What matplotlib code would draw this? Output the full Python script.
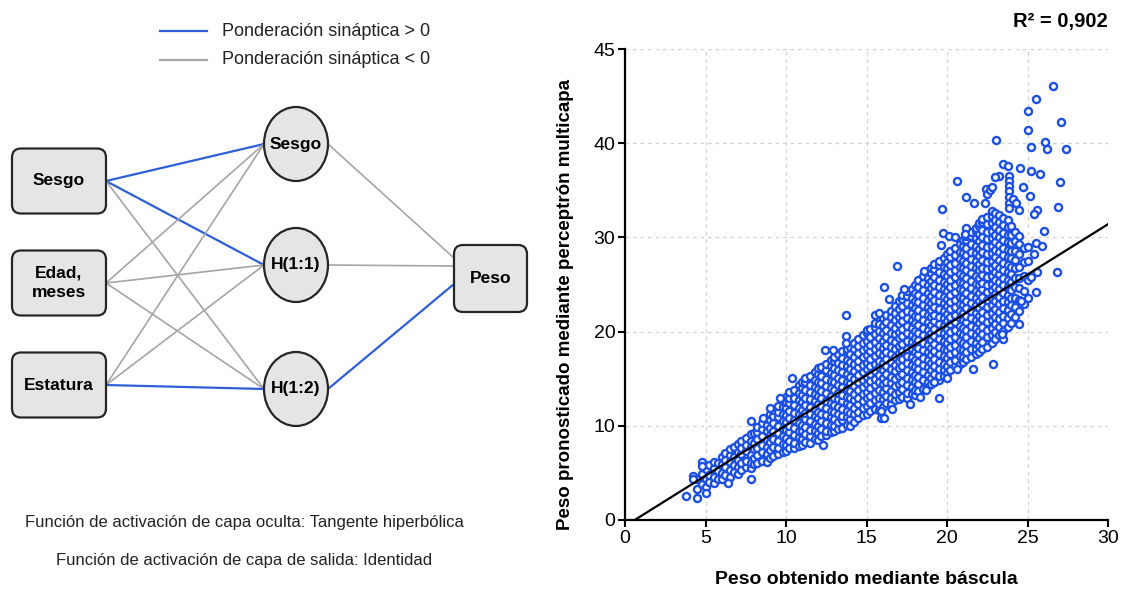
import numpy as np
import matplotlib
matplotlib.use("Agg")
import matplotlib.pyplot as plt
from matplotlib.patches import FancyBboxPatch, Ellipse

plt.rcParams['font.family'] = ['Liberation Sans', 'DejaVu Sans']

BLUE = '#2d5fd9'
GRAY = '#a5a5a5'
PT_BLUE = '#1c4fe3'

# ---- network diagram ----
input_labels = ["Sesgo", "Edad,\nmeses", "Estatura"]
hidden_labels = ["Sesgo", "H(1:1)", "H(1:2)"]
output_label = "Peso"
# sign of the synaptic weight (input -> hidden), +1 blue / -1 gray
w_in = [[1, 1, -1],
        [-1, -1, -1],
        [-1, -1, 1]]
w_out = [-1, -1, 1]
legend_labels = ["Ponderación sináptica > 0", "Ponderación sináptica < 0"]
notes = ["Función de activación de capa oculta: Tangente hiperbólica",
         "Función de activación de capa de salida: Identidad"]

# ---- scatter: columns of points ----
col_x = [4.5, 4.8, 5.0, 5.2, 5.5, 5.8, 6.0, 6.2, 6.5, 6.8, 7.0, 7.2, 7.5, 7.8,
         8.0, 8.2, 8.5, 8.8, 9.0, 9.2, 9.5, 9.8, 10.0, 10.2, 10.5, 10.8, 11.0,
         11.2, 11.5, 11.8, 12.0, 12.2, 12.5, 12.8, 13.0, 13.2, 13.5, 13.8, 14.0,
         14.2, 14.5, 14.8, 15.0, 15.2, 15.5, 15.8, 16.0, 16.2, 16.5, 16.8, 17.0,
         17.2, 17.5, 17.8, 18.0, 18.2, 18.5, 18.8, 19.0, 19.2, 19.5, 19.8, 20.0,
         20.2, 20.5, 20.8, 21.0, 21.2, 21.5, 21.8, 22.0, 22.2, 22.5, 22.8, 23.0,
         23.2, 23.5, 23.8, 24.0, 24.2, 24.5, 24.8, 25.0]
col_y = [
    [3.3, 4.4],
    [3.8, 4.9],
    [3.5, 4.3, 5.4],
    [4.0, 4.8, 5.8],
    [3.9, 4.6, 5.5, 6.2],
    [4.3, 5.2, 6.0],
    [4.4, 5.0, 5.9, 6.7],
    [4.8, 5.6, 6.4, 7.1],
    [4.6, 5.3, 6.2, 6.9, 7.5],
    [5.1, 5.8, 6.7, 7.7],
    [4.9, 5.6, 6.4, 7.2, 8.1],
    [5.3, 6.1, 7.0, 7.6, 8.4],
    [5.6, 6.3, 7.3, 8.0, 8.7],
    [5.5, 6.0, 6.9, 7.8, 8.4, 9.1],
    [5.9, 6.6, 7.5, 8.2, 9.2],
    [6.0, 6.9, 7.6, 8.6, 9.3, 9.9],
    [6.3, 7.2, 8.0, 8.9, 9.7, 10.3],
    [6.2, 7.0, 7.7, 8.5, 9.4, 10.1, 10.8],
    [6.6, 7.4, 8.3, 9.0, 9.8, 10.6, 11.3],
    [6.8, 7.8, 8.6, 9.5, 10.3, 11.0, 11.7],
    [7.0, 7.6, 8.4, 9.2, 10.0, 10.9, 11.5, 12.1],
    [7.2, 8.1, 8.9, 9.7, 10.5, 11.3, 12.0, 12.6],
    [7.3, 8.0, 8.7, 9.6, 10.4, 11.1, 11.9, 12.5, 13.1],
    [7.6, 8.4, 9.3, 10.0, 10.8, 11.6, 12.4, 13.0, 13.6],
    [7.6, 8.2, 9.0, 9.8, 10.6, 11.4, 12.2, 12.9, 13.8],
    [7.9, 8.8, 9.5, 10.3, 11.2, 11.9, 12.7, 13.5, 14.3],
    [8.0, 8.6, 9.4, 10.1, 11.0, 11.7, 12.5, 13.3, 14.0, 14.7],
    [8.3, 9.1, 9.9, 10.7, 11.4, 12.2, 13.0, 13.8, 14.6, 15.1],
    [8.2, 8.9, 9.6, 10.5, 11.2, 12.0, 12.8, 13.6, 14.3, 15.3],
    [8.6, 9.4, 10.2, 11.0, 11.8, 12.6, 13.4, 14.1, 14.9, 15.7],
    [8.5, 9.2, 10.0, 10.8, 11.5, 12.3, 13.2, 13.9, 14.7, 15.5, 16.1],
    [8.9, 9.7, 10.5, 11.3, 12.1, 12.9, 13.7, 14.5, 15.3, 16.2],
    [9.0, 9.5, 10.3, 11.1, 11.9, 12.6, 13.5, 14.2, 15.0, 15.9, 16.6],
    [9.3, 10.1, 10.9, 11.6, 12.4, 13.2, 14.0, 14.8, 15.6, 16.4, 17.0],
    [9.4, 10.0, 10.7, 11.5, 12.2, 13.0, 13.8, 14.6, 15.4, 16.1, 16.9, 17.3],
    [9.7, 10.4, 11.2, 12.0, 12.8, 13.5, 14.3, 15.1, 15.9, 16.7, 17.6],
    [9.8, 10.6, 11.0, 11.8, 12.6, 13.3, 14.1, 14.9, 15.7, 16.5, 17.2, 17.9],
    [10.1, 10.9, 11.6, 12.4, 13.1, 13.9, 14.7, 15.5, 16.3, 17.0, 17.8, 18.2],
    [10.0, 10.7, 11.4, 12.2, 12.9, 13.7, 14.5, 15.2, 16.0, 16.8, 17.6, 18.4],
    [10.4, 11.2, 11.9, 12.7, 13.4, 14.2, 15.0, 15.8, 16.6, 17.3, 18.1, 18.8],
    [10.8, 11.5, 12.3, 13.0, 13.8, 14.6, 15.4, 16.2, 16.9, 17.7, 18.5, 19.2],
    [11.1, 11.9, 12.6, 13.4, 14.1, 14.9, 15.7, 16.5, 17.3, 18.0, 18.8, 19.6],
    [11.3, 12.1, 12.9, 13.6, 14.4, 15.2, 16.0, 16.7, 17.5, 18.3, 19.0, 19.8, 20.2],
    [11.6, 12.4, 13.2, 14.0, 14.8, 15.5, 16.3, 17.1, 17.9, 18.6, 19.4, 20.3],
    [11.8, 12.7, 13.5, 14.3, 15.0, 15.8, 16.6, 17.4, 18.2, 18.9, 19.7, 20.5, 20.9],
    [11.7, 12.3, 13.0, 13.8, 14.6, 15.4, 16.2, 16.9, 17.7, 18.5, 19.3, 20.1, 20.8],
    [12.0, 12.8, 13.6, 14.4, 15.1, 15.9, 16.7, 17.5, 18.3, 19.0, 19.8, 20.6, 21.4],
    [12.4, 13.2, 14.0, 14.7, 15.5, 16.3, 17.1, 17.8, 18.6, 19.4, 20.2, 21.0, 21.8],
    [12.3, 12.9, 13.7, 14.5, 15.2, 16.0, 16.8, 17.6, 18.4, 19.1, 19.9, 20.7, 21.5, 22.2],
    [12.7, 13.4, 14.2, 15.0, 15.8, 16.5, 17.3, 18.1, 18.9, 19.7, 20.4, 21.2, 22.0, 22.7],
    [12.8, 13.6, 14.4, 15.3, 16.1, 16.9, 17.7, 18.5, 19.3, 20.0, 20.8, 21.6, 22.4, 23.2],
    [13.1, 13.9, 14.7, 15.5, 16.3, 17.1, 17.9, 18.7, 19.5, 20.3, 21.1, 21.9, 22.7, 23.5, 23.9],
    [13.0, 13.5, 14.3, 15.1, 15.9, 16.7, 17.4, 18.2, 19.0, 19.8, 20.6, 21.4, 22.2, 23.0, 23.8, 24.3],
    [13.4, 14.1, 14.9, 15.7, 16.5, 17.3, 18.1, 18.9, 19.6, 20.4, 21.2, 22.0, 22.8, 23.6, 24.5],
    [13.3, 13.8, 14.6, 15.4, 16.2, 17.0, 17.8, 18.6, 19.3, 20.1, 20.9, 21.7, 22.5, 23.3, 24.1, 24.9],
    [13.7, 14.4, 15.2, 16.0, 16.8, 17.6, 18.3, 19.1, 19.9, 20.7, 21.5, 22.3, 23.1, 23.9, 24.7, 25.5],
    [13.9, 14.9, 15.7, 16.5, 17.2, 18.0, 18.8, 19.6, 20.4, 21.2, 22.0, 22.8, 23.6, 24.4, 25.2, 25.9],
    [14.2, 14.7, 15.4, 16.2, 17.0, 17.8, 18.6, 19.4, 20.2, 21.0, 21.8, 22.6, 23.3, 24.1, 24.9, 25.7, 26.4],
    [14.4, 15.1, 15.9, 16.7, 17.5, 18.3, 19.1, 19.9, 20.7, 21.5, 22.3, 23.0, 23.8, 24.6, 25.4, 26.2, 26.8],
    [14.6, 15.5, 16.3, 17.1, 17.9, 18.7, 19.5, 20.3, 21.1, 21.8, 22.6, 23.4, 24.2, 25.0, 25.8, 26.6, 27.2],
    [14.9, 15.3, 16.0, 16.8, 17.6, 18.4, 19.2, 20.0, 20.8, 21.6, 22.4, 23.2, 23.9, 24.7, 25.5, 26.3, 27.1, 27.5],
    [15.3, 15.9, 16.6, 17.4, 18.2, 19.0, 19.8, 20.6, 21.4, 22.2, 23.0, 23.7, 24.5, 25.3, 26.1, 26.9, 27.8],
    [15.6, 16.4, 17.2, 18.0, 18.8, 19.5, 20.3, 21.1, 21.9, 22.7, 23.5, 24.3, 25.1, 25.9, 26.7, 27.4, 28.2],
    [15.9, 16.8, 17.6, 18.4, 19.2, 20.0, 20.8, 21.6, 22.4, 23.1, 23.9, 24.7, 25.5, 26.3, 27.1, 27.9, 28.6],
    [16.3, 17.0, 17.8, 18.6, 19.4, 20.2, 21.0, 21.8, 22.6, 23.4, 24.2, 25.0, 25.8, 26.5, 27.3, 28.1, 28.9],
    [16.6, 17.4, 18.2, 19.0, 19.8, 20.6, 21.4, 22.2, 22.9, 23.7, 24.5, 25.3, 26.1, 26.9, 27.7, 28.5, 29.3],
    [16.8, 17.3, 18.0, 18.8, 19.6, 20.4, 21.2, 22.0, 22.8, 23.6, 24.4, 25.2, 25.9, 26.7, 27.5, 28.3, 29.1, 29.7],
    [17.1, 17.8, 18.6, 19.4, 20.2, 21.0, 21.7, 22.5, 23.3, 24.1, 24.9, 25.7, 26.5, 27.3, 28.1, 28.9, 29.7, 30.1],
    [17.3, 18.2, 19.0, 19.8, 20.6, 21.4, 22.2, 23.0, 23.8, 24.6, 25.4, 26.2, 27.0, 27.7, 28.5, 29.3, 30.1, 30.6],
    [17.6, 18.1, 18.8, 19.6, 20.4, 21.2, 22.0, 22.8, 23.6, 24.3, 25.1, 25.9, 26.7, 27.5, 28.3, 29.1, 29.9, 30.7, 31.0],
    [17.8, 18.5, 19.3, 20.1, 20.9, 21.7, 22.5, 23.3, 24.1, 24.9, 25.7, 26.5, 27.2, 28.0, 28.8, 29.6, 30.4, 31.2, 31.5],
    [18.1, 18.9, 19.7, 20.5, 21.3, 22.1, 22.9, 23.7, 24.5, 25.2, 26.0, 26.8, 27.6, 28.4, 29.2, 30.0, 30.8, 31.6, 32.0],
    [18.4, 19.4, 20.2, 21.0, 21.8, 22.6, 23.4, 24.2, 25.0, 25.8, 26.6, 27.4, 28.2, 29.0, 29.8, 30.6, 31.4, 32.2],
    [18.8, 19.6, 20.4, 21.2, 22.0, 22.8, 23.6, 24.4, 25.1, 25.9, 26.7, 27.5, 28.3, 29.1, 29.9, 30.7, 31.5, 32.3, 32.8],
    [19.2, 20.0, 20.8, 21.6, 22.4, 23.2, 24.0, 24.7, 25.5, 26.3, 27.1, 27.9, 28.7, 29.5, 30.3, 31.1, 31.9, 32.6],
    [19.6, 20.5, 21.3, 22.1, 22.9, 23.7, 24.5, 25.3, 26.1, 26.8, 27.6, 28.4, 29.2, 30.0, 30.8, 31.6, 32.4],
    [20.1, 20.9, 21.7, 22.5, 23.3, 24.1, 24.9, 25.7, 26.5, 27.3, 28.1, 28.9, 29.7, 30.5, 31.3, 32.1],
    [20.5, 21.4, 22.3, 23.1, 23.9, 24.7, 25.5, 26.3, 27.1, 27.9, 28.7, 29.5, 30.3, 31.1, 31.8],
    [20.9, 21.9, 22.8, 23.6, 24.4, 25.3, 26.1, 26.9, 27.8, 28.6, 29.4, 30.3, 31.2],
    [21.5, 22.6, 23.6, 24.7, 25.7, 26.7, 27.6, 28.6, 29.6, 30.6],
    [22.2, 23.4, 24.6, 25.7, 26.9, 28.2, 29.3, 30.2],
    [22.9, 24.3, 25.9, 27.4, 28.9],
    [23.6, 25.5, 27.5, 29.0],
]

# isolated points around the cloud
out_x = [3.8, 4.5, 5.0, 4.25, 4.25, 4.8, 4.8, 6.4, 7.85, 7.85, 10.35, 12.45, 12.9,
         13.75, 13.7, 13.7, 15.5, 15.8, 16.1, 16.4, 16.9, 17.35, 18.6, 19.6, 19.75,
         20.1, 20.5, 21.2, 21.1, 19.7, 20.6, 21.2, 21.7, 22.4, 22.5, 22.7, 22.8, 22.35,
         23.05, 23.5, 23.8, 23.2, 23.0, 23.85, 23.85, 23.85, 23.85, 23.85, 23.85, 23.85,
         24.55, 25.0, 25.0, 25.5, 26.6, 27.1, 25.2, 26.1, 26.2, 27.4, 25.8, 25.2, 27.0,
         24.7, 25.15, 24.1, 24.3, 24.5, 25.6, 25.4, 26.9, 26.0, 25.5, 25.9, 25.4, 26.85,
         25.6, 25.2, 25.5, 24.6, 24.5, 23.5, 23.4, 22.85, 21.6, 20.6, 20.0, 19.5, 19.2,
         18.7, 18.35, 17.7, 16.6, 15.9, 15.9, 16.1, 12.3, 9.0, 9.6, 8.6]
out_y = [2.5, 2.3, 2.9, 4.7, 4.3, 6.2, 5.7, 3.9, 10.5, 4.3, 15.1, 18.0, 18.0,
         21.8, 19.5, 18.8, 21.8, 22.0, 24.7, 23.5, 27.0, 24.5, 26.4, 29.2, 30.5,
         30.2, 30.0, 31.0, 30.4, 33.0, 36.0, 34.3, 33.6, 35.1, 34.6, 35.0, 35.4, 33.7,
         40.3, 37.8, 37.6, 36.5, 36.4, 36.5, 36.0, 35.5, 34.9, 34.3, 33.7, 33.1,
         37.4, 43.4, 41.4, 44.7, 46.1, 42.3, 39.6, 40.1, 39.4, 39.4, 36.7, 37.0, 35.9,
         35.4, 34.4, 34.1, 33.6, 32.9, 32.9, 32.5, 33.2, 30.7, 29.4, 29.1, 28.2, 26.3,
         26.3, 25.8, 24.2, 23.3, 20.8, 19.2, 19.7, 16.6, 16.0, 16.0, 15.1, 12.9, 14.7,
         13.8, 13.1, 12.3, 11.8, 11.6, 10.8, 10.8, 8.0, 11.9, 13.0, 10.8]

fit_x = [0.6, 30]
fit_y = [0.0, 31.4]
x_ticks = [0, 5, 10, 15, 20, 25, 30]
y_ticks = [0, 10, 20, 30, 40, 50]
y_tick_labels = ["0", "10", "20", "30", "40", "45"]

pts_x = np.concatenate([np.full(len(v), x) for x, v in zip(col_x, col_y)] + [np.array(out_x)])
pts_y = np.concatenate([np.array(v) for v in col_y] + [np.array(out_y)])

fig = plt.figure(figsize=(11.21, 5.96), dpi=100)

# left: network diagram in pixel coordinates
ax0 = fig.add_axes([0, 0, 540 / 1121, 1])
ax0.set_xlim(0, 540)
ax0.set_ylim(596, 0)
ax0.axis('off')

in_y = [181, 283, 385]
hid_y = [144, 265, 389]
box_x0, box_w, box_h = 12, 94, 65
hid_cx, hid_rx, hid_ry = 296, 32, 37
out_box = (454, 245, 73, 67)
out_in_y = [258, 266, 284]

for i in range(3):
    for j in range(3):
        c = BLUE if w_in[i][j] > 0 else GRAY
        ax0.plot([box_x0 + box_w, hid_cx - hid_rx], [in_y[i], hid_y[j]], color=c,
                 lw=1.6 if c == BLUE else 1.2, zorder=1, solid_capstyle='round')
for j in range(3):
    c = BLUE if w_out[j] > 0 else GRAY
    ax0.plot([hid_cx + hid_rx, out_box[0]], [hid_y[j], out_in_y[j]], color=c,
             lw=1.6 if c == BLUE else 1.2, zorder=1)

for i, lab in enumerate(input_labels):
    ax0.add_patch(FancyBboxPatch((box_x0, in_y[i] - box_h / 2), box_w, box_h,
                                 boxstyle="round,pad=0,rounding_size=9",
                                 fc='#e5e5e5', ec='#262626', lw=1.6, zorder=2))
    ax0.text(box_x0 + box_w / 2, in_y[i], lab, ha='center', va='center',
             fontsize=12.5, fontweight='bold', linespacing=1.35, zorder=3)
for j, lab in enumerate(hidden_labels):
    ax0.add_patch(Ellipse((hid_cx, hid_y[j]), 2 * hid_rx, 2 * hid_ry,
                          fc='#e5e5e5', ec='#262626', lw=1.6, zorder=2))
    ax0.text(hid_cx, hid_y[j], lab, ha='center', va='center',
             fontsize=12.5, fontweight='bold', zorder=3)
ax0.add_patch(FancyBboxPatch((out_box[0], out_box[1]), out_box[2], out_box[3],
                             boxstyle="round,pad=0,rounding_size=9",
                             fc='#e5e5e5', ec='#262626', lw=1.6, zorder=2))
ax0.text(out_box[0] + out_box[2] / 2, out_box[1] + out_box[3] / 2, output_label,
         ha='center', va='center', fontsize=12.5, fontweight='bold', zorder=3)

# legend
for k, (lab, c) in enumerate(zip(legend_labels, [BLUE, GRAY])):
    yy = 31 + 29 * k
    ax0.plot([160, 207], [yy, yy], color=c, lw=1.6)
    ax0.text(222, yy, lab, ha='left', va='center', fontsize=13, color='#222222')

for k, t in enumerate(notes):
    ax0.text(244, 522 + 39 * k, t, ha='center', va='center', fontsize=12, color='#222222')

# right: scatter
ax = fig.add_axes([625 / 1121, 76 / 596, 483 / 1121, 471 / 596])
ax.scatter(pts_x, pts_y, s=26, facecolors='white', edgecolors=PT_BLUE,
           linewidths=1.7, zorder=2, clip_on=False)
ax.plot(fit_x, fit_y, color='black', lw=1.6, zorder=3)
ax.set_xlim(0, 30)
ax.set_ylim(0, 50)
ax.set_xticks(x_ticks)
ax.set_yticks(y_ticks)
ax.set_yticklabels(y_tick_labels)
ax.grid(True, ls=(0, (3, 3)), color='#d2d2d2', lw=0.9)
ax.set_axisbelow(True)
for s in ['top', 'right']:
    ax.spines[s].set_visible(False)
for s in ['left', 'bottom']:
    ax.spines[s].set_linewidth(1.6)
ax.tick_params(direction='out', length=5, width=1.5, labelsize=14, pad=2)

fig.text(1108 / 1121, 1 - 22 / 596, "R² = 0,902", ha='right', va='center',
         fontsize=14.5, fontweight='bold')
fig.text(565 / 1121, 1 - 304 / 596, "Peso pronosticado mediante perceptrón multicapa",
         rotation=90, ha='center', va='center', fontsize=13.5, fontweight='bold')
fig.text(866 / 1121, 1 - 580 / 596, "Peso obtenido mediante báscula",
         ha='center', va='center', fontsize=14, fontweight='bold')

fig.savefig('out.png', dpi=100)
